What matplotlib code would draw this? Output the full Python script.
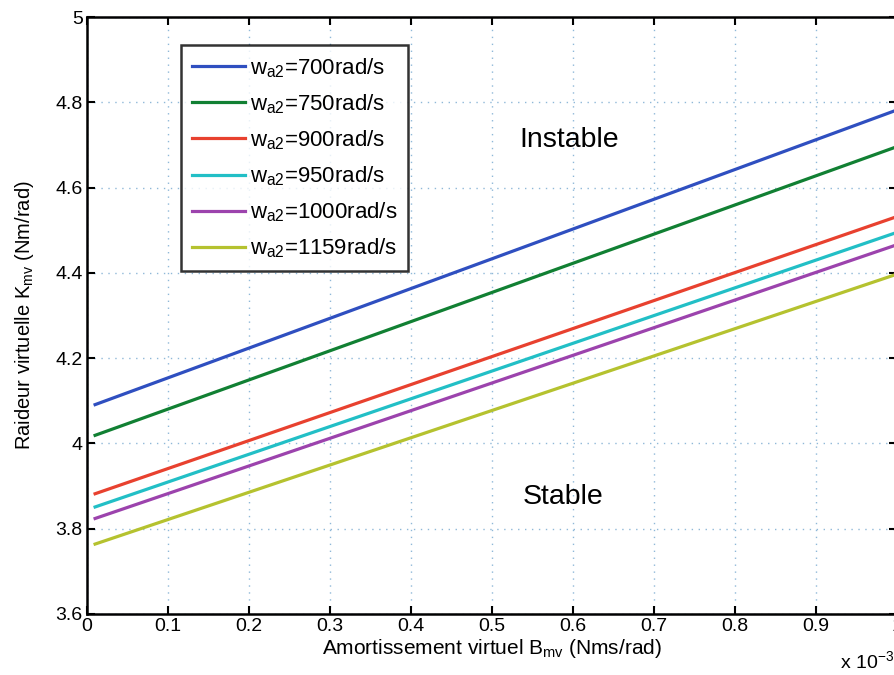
import numpy as np
import matplotlib
matplotlib.use('Agg')
import matplotlib.pyplot as plt

plt.rcParams['font.family'] = ['Liberation Sans', 'DejaVu Sans']

# virtual damping B_mv (Nms/rad), two ends of each straight line
B_mv = [0.01e-3, 1.0e-3]

# virtual stiffness K_mv (Nm/rad) at the two ends, per w_a2
wa2_labels = ['700', '750', '900', '950', '1000', '1159']
K_700 = [4.091, 4.782]
K_750 = [4.019, 4.696]
K_900 = [3.882, 4.532]
K_950 = [3.851, 4.495]
K_1000 = [3.824, 4.466]
K_1159 = [3.764, 4.397]

colors = ['#2f4fc0', '#118033', '#e8412f', '#22bfc6', '#9c43ad', '#b5c22f']

fig = plt.figure(figsize=(8.95, 6.75), dpi=100)
ax = fig.add_axes([87/895, 61/675, 810/895, 597/675])

x = np.array(B_mv) * 1e3
for K, lab, c in zip([K_700, K_750, K_900, K_950, K_1000, K_1159], wa2_labels, colors):
    ax.plot(x, K, color=c, lw=2.3, label=r'w$_{\mathregular{a2}}$=' + lab + 'rad/s')

ax.set_xlim(0, 1)
ax.set_ylim(3.6, 5)
ax.set_xticks(np.arange(0, 1.01, 0.1))
ax.set_xticklabels(['0', '0.1', '0.2', '0.3', '0.4', '0.5', '0.6', '0.7', '0.8', '0.9', '1'])
ax.set_yticks([3.6, 3.8, 4.0, 4.2, 4.4, 4.6, 4.8, 5.0])
ax.set_yticklabels(['3.6', '3.8', '4', '4.2', '4.4', '4.6', '4.8', '5'])
ax.tick_params(direction='in', length=6, width=1.5, top=True, right=True,
               labelsize=14, pad=3)
for s in ax.spines.values():
    s.set_linewidth(1.8)

ax.grid(True, color='#8fb8d8', linestyle=(0, (1, 4)), linewidth=1.0)

ax.set_xlabel(r'Amortissement virtuel B$_{\mathregular{mv}}$ (Nms/rad)', fontsize=15, labelpad=1)
ax.set_ylabel(r'Raideur virtuelle K$_{\mathregular{mv}}$ (Nm/rad)', fontsize=14.5, labelpad=14)
fig.text(840/895, 1 - 662/675, r'x 10$^{\mathregular{-3}}$', fontsize=14, va='center')

ax.text(0.595, 4.712, 'Instable', fontsize=20.5, ha='center', va='center')
ax.text(0.588, 3.875, 'Stable', fontsize=20.5, ha='center', va='center')

leg = ax.legend(loc='upper left', bbox_to_anchor=(0.116, 0.953), fontsize=16,
                frameon=True, fancybox=False, edgecolor='black', handlelength=2.4,
                labelspacing=0.56, borderpad=0.5, handletextpad=0.2,
                borderaxespad=0)
leg.get_frame().set_linewidth(1.8)

plt.savefig('out.png', dpi=100)
